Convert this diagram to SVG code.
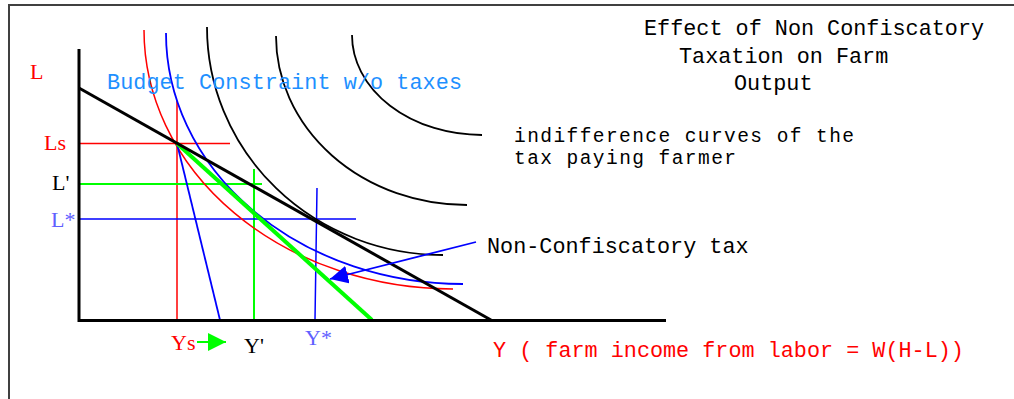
<svg xmlns="http://www.w3.org/2000/svg" width="1014" height="399" viewBox="0 0 1014 399">
  <style>
    .mono { font-family: "Liberation Mono", "DejaVu Sans Mono", monospace; font-size: 21.8px; }
    .ser { font-family: "Liberation Serif", "DejaVu Serif", serif; font-size: 22px; }
    .thin { fill: none; stroke-width: 1.5; }
  </style>
  <defs>
    <marker id="ahBlue" viewBox="0 0 18 18" refX="18" refY="9" markerWidth="18" markerHeight="18" orient="auto" markerUnits="userSpaceOnUse">
      <path d="M0,0 L18,9 L0,18 z" fill="#0000ff"/>
    </marker>
    <marker id="ahGreen" viewBox="0 0 18 18" refX="18" refY="9" markerWidth="18" markerHeight="18" orient="auto" markerUnits="userSpaceOnUse">
      <path d="M0,0 L18,9 L0,18 z" fill="#00ff00"/>
    </marker>
  </defs>
  <rect width="1014" height="399" fill="#ffffff"/>
  <g id="frame" fill="none" stroke="#404040" stroke-width="2">
    <path d="M9,399 L9,5 L1014,5"/>
  </g>

  <g id="guides" class="thin">
    <path d="M79,143.5 L230,143.5 M177,101 L177,320" stroke="#ff0000"/>
    <path d="M79,184 L262,184 M254,169 L254,320" stroke="#00ff00" stroke-width="2"/>
    <path d="M79,219 L356,219 M317,188 L315,320" stroke="#0000ff"/>
  </g>

  <g id="indifference-curves" fill="none">
    <path d="M207,27 A236,228 0 0 0 443,255" stroke="#000" stroke-width="1.8"/>
    <path d="M276,36 A191,169 0 0 0 467,205" stroke="#000" stroke-width="1.8"/>
    <path d="M352,35 A130,100 0 0 0 482,135" stroke="#000" stroke-width="1.8"/>
    <path d="M144,30 A309,259 0 0 0 453,289" stroke="#ff0000" stroke-width="1.5"/>
    <path d="M166,33 A297,251 0 0 0 463,284" stroke="#0000ff" stroke-width="1.8"/>
  </g>

  <g id="budget-lines" fill="none">
    <path d="M177,143.5 L220,320" stroke="#0000ff" stroke-width="1.8"/>
    <path d="M177,143.5 L372,320" stroke="#00ff00" stroke-width="4"/>
    <path d="M79,88 L491,320" stroke="#000" stroke-width="3"/>
  </g>

  <g id="axes" fill="none" stroke="#000" stroke-width="3">
    <path d="M79,49 L79,320.5 L666,320.5"/>
  </g>

  <g id="connectors" fill="none">
    <path d="M476,242 L330,279" stroke="#0000ff" stroke-width="1.8" marker-end="url(#ahBlue)"/>
    <path d="M197,342 L226,342" stroke="#00ff00" stroke-width="2" marker-end="url(#ahGreen)"/>
  </g>

  <g id="title" class="mono" fill="#000">
    <text x="644" y="35">Effect of Non Confiscatory</text>
    <text x="679" y="63">Taxation on Farm</text>
    <text x="734" y="90">Output</text>
  </g>
  <g id="budget-label" class="mono" fill="#1e90ff">
    <text x="107" y="89" textLength="355">Budget Constraint w/o taxes</text>
  </g>
  <g id="ic-label" class="mono" fill="#000" style="font-size:19.5px">
    <text x="514" y="142" textLength="340">indifference curves of the</text>
    <text x="514" y="164" textLength="222">tax paying farmer</text>
  </g>
  <g id="tax-label" class="mono" fill="#000">
    <text x="487" y="253">Non-Confiscatory tax</text>
  </g>
  <g id="x-axis-label" class="mono" fill="#ff0000">
    <text x="493" y="357">Y ( farm income from labor = W(H-L))</text>
  </g>

  <g id="axis-labels" class="ser">
    <text x="30" y="79" fill="#ff0000">L</text>
    <text x="44" y="150" fill="#ff0000">Ls</text>
    <text x="52" y="190" fill="#000">L'</text>
    <text x="51" y="227" fill="#6060ff">L*</text>
    <text x="171" y="350" fill="#ff0000">Ys</text>
    <text x="244" y="353" fill="#000">Y'</text>
    <text x="305" y="345" fill="#6060ff">Y*</text>
  </g>
</svg>
